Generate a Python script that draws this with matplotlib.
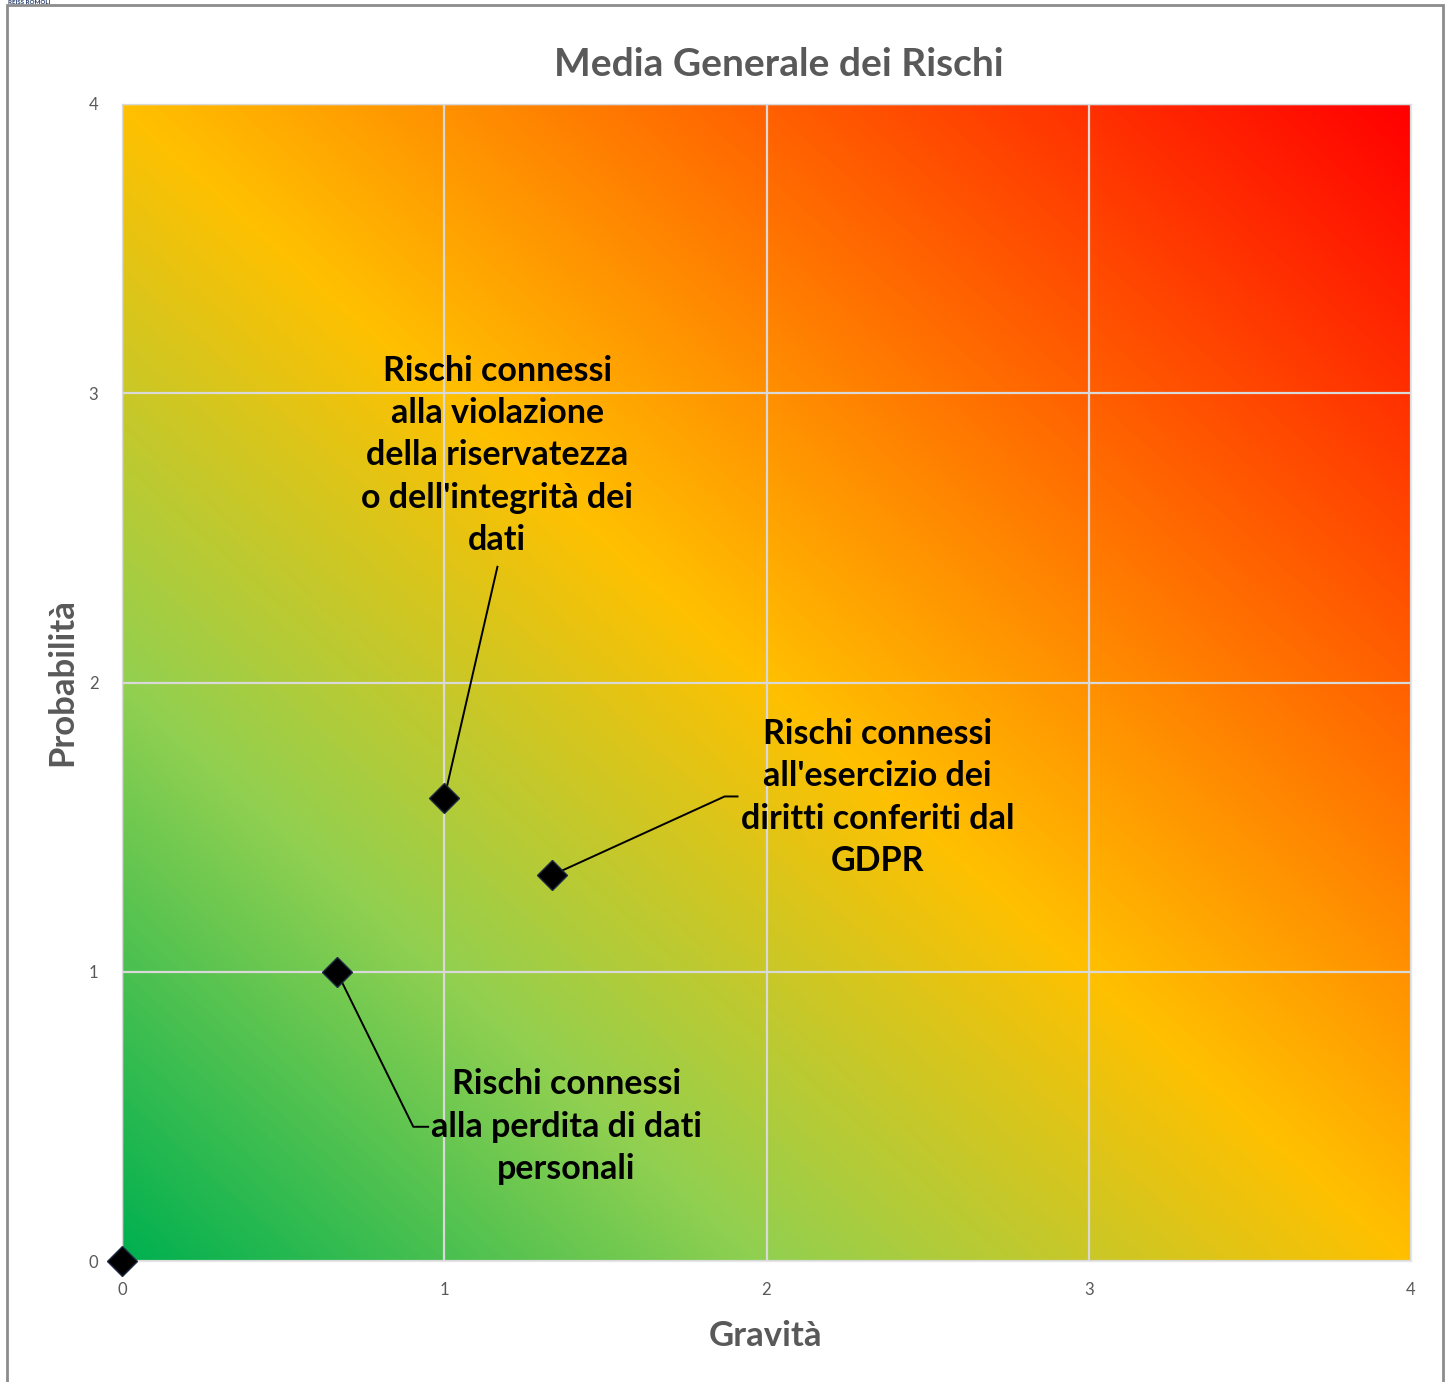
import numpy as np
import matplotlib.pyplot as plt
from matplotlib.colors import LinearSegmentedColormap
from matplotlib.patches import Rectangle

plt.rcParams['font.family'] = ['Lato', 'DejaVu Sans']

# risk averages: gravity (x) vs probability (y)
gravita = [0, 2 / 3, 1, 4 / 3]
probabilita = [0, 1, 1.6, 4 / 3]

etichette = [
    "Rischi connessi\nalla perdita di dati\npersonali",
    "Rischi connessi\nalla violazione\ndella riservatezza\no dell'integrità dei\ndati",
    "Rischi connessi\nall'esercizio dei\ndiritti conferiti dal\nGDPR",
]
# label centre and leader-line elbow for points 1..3
pos_etichette = [(1.379, 0.464), (1.165, 2.785), (2.345, 1.602)]
gomiti = [(0.904, 0.464, 0.95), (1.165, 2.40, None), (1.87, 1.606, 1.91)]

tick_vals = [0, 1, 2, 3, 4]

W, H = 1447, 1382
fig = plt.figure(figsize=(W / 100, H / 100), dpi=100)
ax = fig.add_axes([122 / W, 1 - 1261 / H, (1411 - 122) / W, (1261 - 104) / H])

# diagonal green -> yellow -> red background
cmap = LinearSegmentedColormap.from_list("rischio", [
    (0.0, (0 / 255, 176 / 255, 80 / 255)),
    (0.25, (146 / 255, 208 / 255, 80 / 255)),
    (0.5, (255 / 255, 192 / 255, 0)),
    (1.0, (255 / 255, 0, 0)),
])
u, v = np.meshgrid(np.linspace(0, 1, 600), np.linspace(0, 1, 600))
ax.imshow((u + v) / 2, cmap=cmap, origin="lower", extent=[0, 4, 0, 4],
          aspect="auto", vmin=0, vmax=1, zorder=0, interpolation="bilinear")

ax.set_xlim(0, 4)
ax.set_ylim(0, 4)
ax.set_xticks(tick_vals)
ax.set_yticks(tick_vals)
ax.grid(True, color="#d9d9d9", lw=1.6, zorder=1)
ax.set_axisbelow(False)
for s in ax.spines.values():
    s.set_color("#e6e6e6")
    s.set_linewidth(1)
ax.tick_params(length=0, labelsize=12, labelcolor="#595959")
ax.tick_params(axis="y", pad=17)
ax.tick_params(axis="x", pad=15)

# leader lines and labels
for i, ((lx, ly), (ex, ey, hx)) in enumerate(zip(pos_etichette, gomiti)):
    px, py = gravita[i + 1], probabilita[i + 1]
    xs = [px, ex]
    ys = [py, ey]
    if hx is not None:
        xs.append(hx)
        ys.append(ey)
    ax.plot(xs, ys, color="black", lw=1.4, zorder=3)
    ax.text(lx, ly, etichette[i], ha="center", va="center", fontsize=24.5,
            fontweight="bold", color="black", linespacing=1.40, zorder=4)

ax.plot(gravita, probabilita, ls="none", marker="D", ms=15, color="black",
        mec="#1f2a44", mew=1, zorder=5, clip_on=False)

fig.text(779 / W, 1 - 64 / H, "Media Generale dei Rischi", ha="center",
         va="center", fontsize=28, fontweight="bold", color="#595959")
fig.text(766 / W, 1 - 1336 / H, "Gravità", ha="center", va="center",
         fontsize=25, fontweight="bold", color="#595959")
fig.text(62 / W, 1 - 682 / H, "Probabilità", ha="center", va="center",
         rotation=90, fontsize=25, fontweight="bold", color="#595959")

# chart frame and logo text
fig.patches.append(Rectangle((7 / W, -0.05), (1443 - 7) / W, 1.05 - 5 / H,
                             transform=fig.transFigure, fill=False,
                             ec="#8c8c8c", lw=2))
fig.text(8 / W, 1.0, "REISS ROMOLI", ha="left", va="top", fontsize=4.5,
         fontweight="bold", color="#1f3864")

fig.savefig("out.png", dpi=100)
